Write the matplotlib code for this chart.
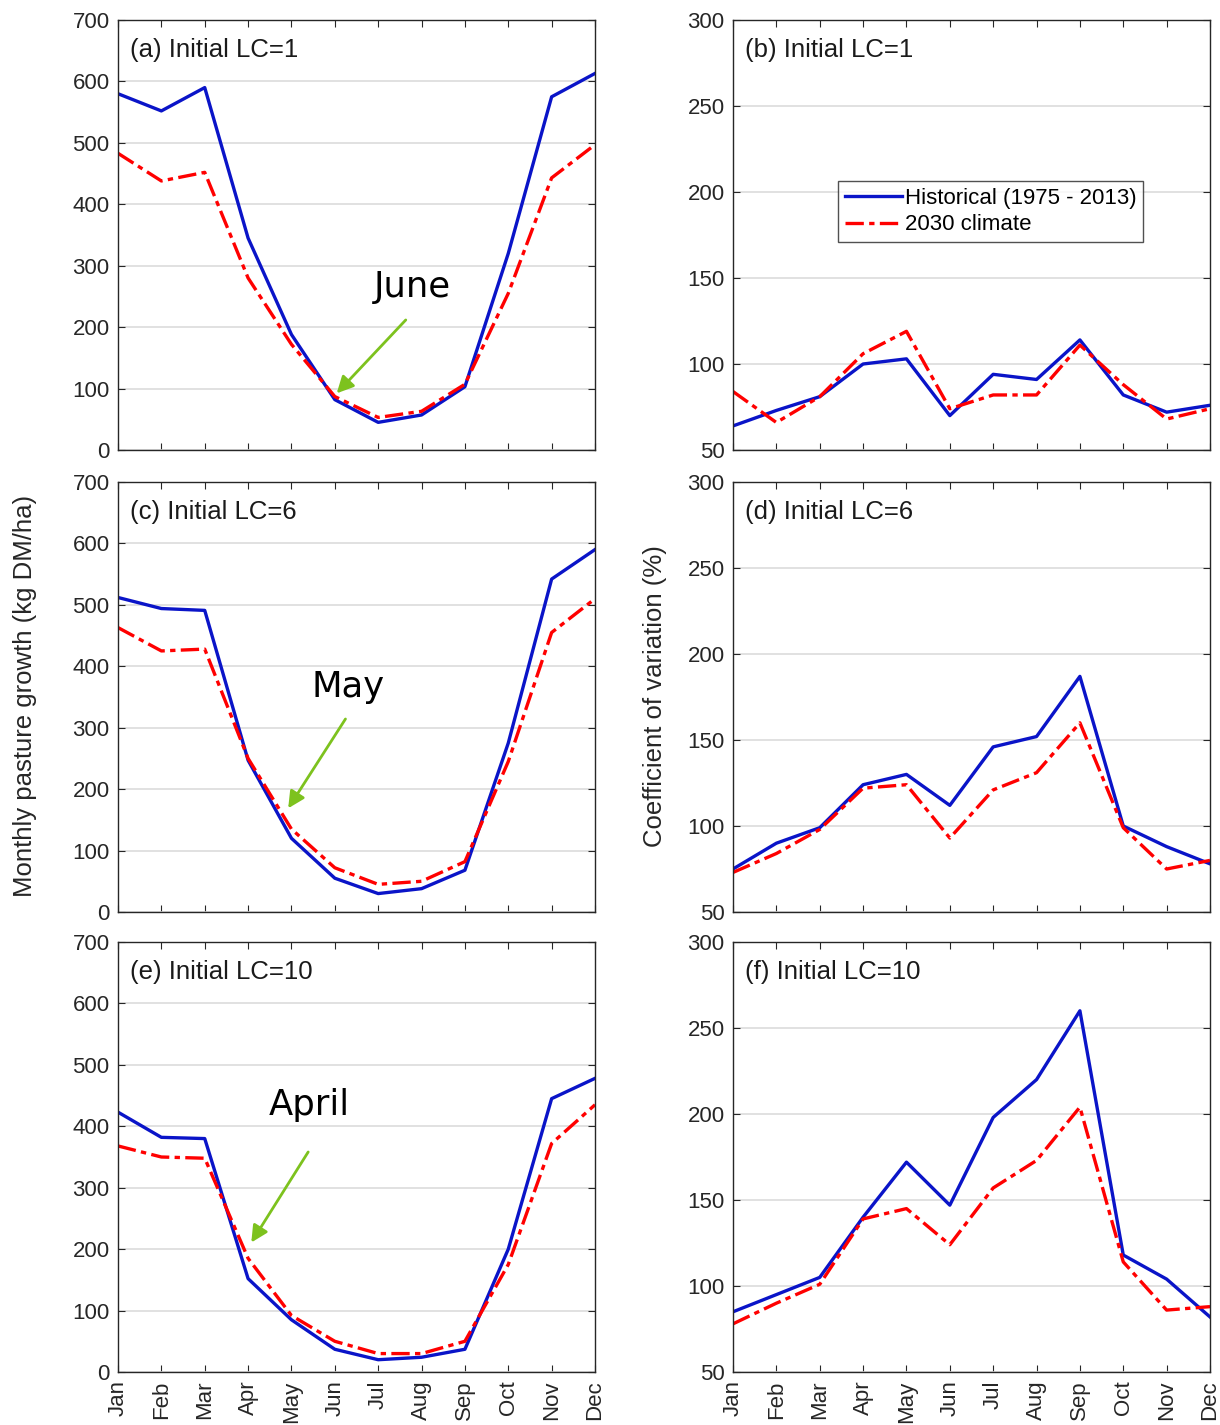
import numpy as np
import matplotlib.pyplot as plt

months = ['Jan', 'Feb', 'Mar', 'Apr', 'May', 'Jun', 'Jul', 'Aug', 'Sep', 'Oct', 'Nov', 'Dec']

# monthly pasture growth (kg DM/ha)
growth_hist_lc1 = [580, 552, 590, 345, 188, 82, 45, 57, 103, 320, 575, 613]
growth_2030_lc1 = [483, 438, 452, 280, 172, 87, 53, 63, 107, 255, 443, 497]
growth_hist_lc6 = [512, 494, 491, 247, 120, 55, 30, 38, 68, 275, 542, 590]
growth_2030_lc6 = [463, 425, 428, 250, 135, 72, 45, 50, 82, 245, 455, 510]
growth_hist_lc10 = [423, 382, 380, 152, 85, 37, 20, 24, 37, 200, 445, 478]
growth_2030_lc10 = [368, 350, 348, 185, 92, 50, 30, 30, 50, 175, 372, 435]

# coefficient of variation (%)
cv_hist_lc1 = [64, 73, 81, 100, 103, 70, 94, 91, 114, 82, 72, 76]
cv_2030_lc1 = [84, 66, 81, 106, 119, 74, 82, 82, 111, 88, 68, 74]
cv_hist_lc6 = [75, 90, 99, 124, 130, 112, 146, 152, 187, 100, 88, 78]
cv_2030_lc6 = [73, 84, 98, 122, 124, 93, 121, 131, 160, 99, 75, 80]
cv_hist_lc10 = [85, 95, 105, 140, 172, 147, 198, 220, 260, 118, 104, 82]
cv_2030_lc10 = [78, 90, 101, 139, 145, 124, 157, 173, 204, 114, 86, 88]

panel_titles = ['(a) Initial LC=1', '(b) Initial LC=1', '(c) Initial LC=6',
                '(d) Initial LC=6', '(e) Initial LC=10', '(f) Initial LC=10']

# annotation: label, text centre, arrow tail, arrow tip (month, value)
notes = [('June', (7.8, 265), (7.68, 215), (6.0, 89)),
         ('May', (6.3, 367), (6.28, 318), (4.89, 165)),
         ('April', (5.4, 435), (5.42, 362), (4.04, 207))]

plt.rcParams['font.family'] = ['Liberation Sans', 'DejaVu Sans']

fig = plt.figure(figsize=(12.2, 14.25), dpi=100)
W, H = 1220.0, 1425.0
lefts = [118, 733]
tops = [20, 482, 942]
aw, ah = 477, 430

x = np.arange(1, 13)
blue = '#0a14c8'
red = '#ff0000'
dashdot = (0, (5.5, 1.6, 1.6, 1.6))

growth = [(growth_hist_lc1, growth_2030_lc1), (growth_hist_lc6, growth_2030_lc6),
          (growth_hist_lc10, growth_2030_lc10)]
cv = [(cv_hist_lc1, cv_2030_lc1), (cv_hist_lc6, cv_2030_lc6),
      (cv_hist_lc10, cv_2030_lc10)]

for row in range(3):
    for col in range(2):
        ax = fig.add_axes([lefts[col] / W, 1 - (tops[row] + ah) / H, aw / W, ah / H])
        hist, fut = (growth if col == 0 else cv)[row]
        h1, = ax.plot(x, hist, color=blue, lw=2.4, label='Historical (1975 - 2013)')
        h2, = ax.plot(x, fut, color=red, lw=2.4, linestyle=dashdot, label='2030 climate')
        ax.set_xlim(1, 12)
        if col == 0:
            ax.set_ylim(0, 700)
            ax.set_yticks(np.arange(0, 701, 100))
        else:
            ax.set_ylim(50, 300)
            ax.set_yticks(np.arange(50, 301, 50))
        ax.set_xticks(x)
        if row == 2:
            ax.set_xticklabels(months, rotation=90, fontsize=16)
        else:
            ax.set_xticklabels([])
        ax.grid(axis='y', color='#dcdcdc', lw=1.2)
        ax.set_axisbelow(True)
        ax.tick_params(direction='in', top=True, right=True, length=5,
                       labelsize=16, colors='#262626', pad=6)
        for s in ax.spines.values():
            s.set_color('#262626')
            s.set_linewidth(1.0)
        ax.text(0.025, 0.93, panel_titles[row * 2 + col], transform=ax.transAxes,
                fontsize=18.5, color='#1a1a1a', va='center', ha='left')
        if col == 0:
            label, tpos, tail, tip = notes[row]
            ax.text(tpos[0], tpos[1], label, fontsize=25.5, family='DejaVu Sans',
                    ha='center', va='center')
            ax.annotate('', xy=tip, xytext=tail,
                        arrowprops=dict(arrowstyle='-|>', color='#7dc21e', lw=2,
                                        mutation_scale=25))
        if row == 0 and col == 1:
            leg = ax.legend(handles=[h1, h2], loc='upper left',
                            bbox_to_anchor=(0.22, 0.625), fontsize=16,
                            frameon=True, fancybox=False, handlelength=2.6,
                            handletextpad=0.1, borderpad=0.3, labelspacing=0.25,
                            borderaxespad=0)
            leg.get_frame().set_edgecolor('#262626')
            leg.get_frame().set_linewidth(1.0)

fig.text(25 / W, 1 - 696 / H, 'Monthly pasture growth (kg DM/ha)', rotation=90,
         fontsize=18.5, ha='center', va='center', color='#262626')
fig.text(655 / W, 1 - 696 / H, 'Coefficient of variation (%)', rotation=90,
         fontsize=18.5, ha='center', va='center', color='#262626')

fig.savefig('out.png', dpi=100)
